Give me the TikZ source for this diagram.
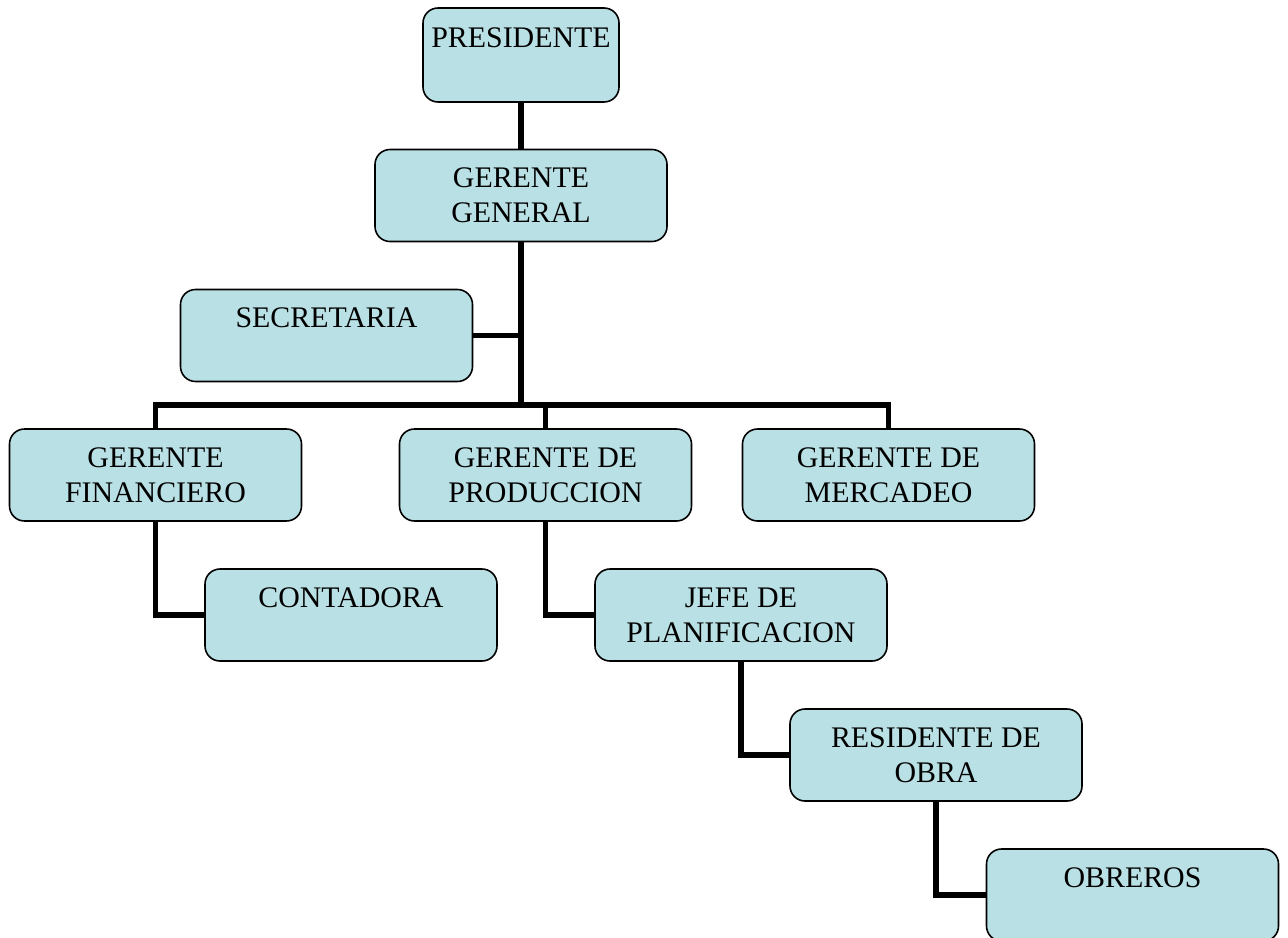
\documentclass[tikz,border=0pt]{standalone}
\usepackage{fontspec}
\setmainfont{Liberation Serif}
\usepackage{tikz}
\usetikzlibrary{arrows,arrows.meta}
\definecolor{boxfill}{RGB}{185,224,228}

\begin{document}
\begin{tikzpicture}[
unit/.style={draw=black,line width=0.9pt,fill=boxfill,rounded corners=0.3cm,
  minimum width=5.84cm,minimum height=1.84cm,inner sep=0pt,align=center,
  font=\fontsize{17}{19.9}\selectfont},
link/.style={line width=0.11cm} ]

\useasboundingbox (0,0) rectangle (25.76,-18.74);

\node[unit,minimum width=3.92cm,minimum height=1.88cm] (pres) at (10.42,-1.10) {PRESIDENTE\\\mbox{}};

\node[unit] (gg) at (10.42,-3.91) {GERENTE\\GENERAL};

\node[unit] (sec) at (6.53,-6.71) {SECRETARIA\\\mbox{}};

\node[unit] (gf) at (3.11,-9.50) {GERENTE\\FINANCIERO};

\node[unit] (gp) at (10.91,-9.50) {GERENTE DE\\PRODUCCION};

\node[unit] (gm) at (17.77,-9.50) {GERENTE DE\\MERCADEO};

\node[unit] (cont) at (7.02,-12.30) {CONTADORA\\\mbox{}};

\node[unit] (jefe) at (14.82,-12.30) {JEFE DE\\PLANIFICACION};

\node[unit] (res) at (18.72,-15.10) {RESIDENTE DE\\OBRA};

\node[unit] (obr) at (22.65,-17.90) {OBREROS\\\mbox{}};

\coordinate (bus) at (0,-8.10);

\draw[link] (pres) -- (gg);

\draw[link] (gg.south) -- (gg.south |- bus);

\draw[link] (sec.east) -- (sec.east -| gg.south);

\draw[link] (gf.north) -- (gf.north |- bus) -- (gm.north |- bus) -- (gm.north);

\draw[link] (gp.north) -- (gp.north |- bus);

\draw[link] (gf.south) |- (cont.west);

\draw[link] (gp.south) |- (jefe.west);

\draw[link] (jefe.south) |- (res.west);

\draw[link] (res.south) |- (obr.west);

\end{tikzpicture}
\end{document}
